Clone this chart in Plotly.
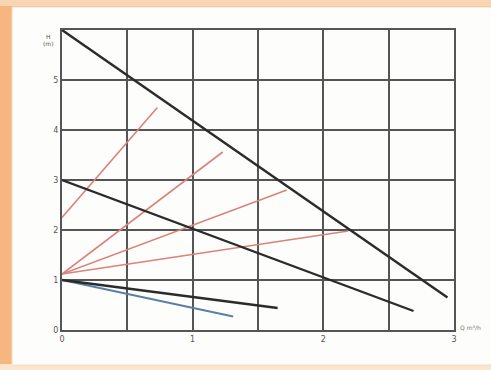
import plotly.graph_objects as go

# Data (Q in m3/h, H in m)
black_lines = [
    {"q": [0, 2.95], "h": [6.0, 0.65]},
    {"q": [0, 2.69], "h": [3.0, 0.38]},
    {"q": [0, 1.65], "h": [1.0, 0.44]},
]
blue_q = [0, 1.31]
blue_h = [1.0, 0.27]
red_lines = [
    {"q": [0, 0.73], "h": [2.25, 4.45]},
    {"q": [0, 1.23], "h": [1.12, 3.56]},
    {"q": [0, 1.72], "h": [1.12, 2.8]},
    {"q": [0, 2.19], "h": [1.12, 1.98]},
]
x_tickvals = [0, 0.5, 1, 1.5, 2, 2.5, 3]
x_ticktext = ["0", "", "1", "", "2", "", "3"]
y_tickvals = [0, 1, 2, 3, 4, 5, 6]
y_ticktext = ["0", "1", "2", "3", "4", "5", ""]

fig = go.Figure()
for r in red_lines:
    fig.add_trace(go.Scatter(x=r["q"], y=r["h"], mode="lines",
                             line=dict(color="#d9837c", width=1.6), showlegend=False))
fig.add_trace(go.Scatter(x=blue_q, y=blue_h, mode="lines",
                         line=dict(color="#5b7ea6", width=2), showlegend=False))
for b in black_lines:
    fig.add_trace(go.Scatter(x=b["q"], y=b["h"], mode="lines",
                             line=dict(color="#2b2b2b", width=2.4), showlegend=False))

PW, PH = 392, 300
fig.update_layout(
    width=491, height=370,
    margin=dict(l=62, r=37, t=30, b=40),
    paper_bgcolor="#f5b77f",
    plot_bgcolor="white",
    showlegend=False,
    font=dict(family="DejaVu Sans", size=6, color="#555"),
    shapes=[
        dict(type="rect", xref="paper", yref="paper", layer="below",
             x0=-62/PW, x1=1 + 37/PW, y0=1 + 24/PH, y1=1 + 30/PH,
             fillcolor="#f8d6b4", line=dict(width=0)),
        dict(type="rect", xref="paper", yref="paper", layer="below",
             x0=-62/PW, x1=1 + 37/PW, y0=-40/PH, y1=-34/PH,
             fillcolor="#fae6cf", line=dict(width=0)),
        dict(type="rect", xref="paper", yref="paper", layer="below",
             x0=-50/PW, x1=1 + 40/PW, y0=-35/PH, y1=1 + 23/PH,
             fillcolor="#fdfdfb", line=dict(color="#f2dcc2", width=1)),
    ],
    annotations=[
        dict(text="H", xref="paper", yref="paper", x=-14/PW, y=1 - 6/PH,
             showarrow=False, font=dict(size=6, color="#555"), xanchor="center", yanchor="middle"),
        dict(text="(m)", xref="paper", yref="paper", x=-14/PW, y=1 - 14/PH,
             showarrow=False, font=dict(size=6, color="#555"), xanchor="center", yanchor="middle"),
        dict(text="Q m³/h", xref="paper", yref="paper", x=1 + 4/PW, y=3/PH,
             showarrow=False, font=dict(size=6, color="#777"), xanchor="left", yanchor="middle"),
    ],
)
fig.update_xaxes(range=[0, 3], tickvals=x_tickvals, ticktext=x_ticktext,
                 showgrid=True, gridcolor="#555", gridwidth=2,
                 showline=True, linecolor="#555", linewidth=2, mirror=True,
                 zeroline=False, ticks="", tickfont=dict(size=8, color="#555"))
fig.update_yaxes(range=[0, 6], tickvals=y_tickvals, ticktext=y_ticktext,
                 showgrid=True, gridcolor="#555", gridwidth=2,
                 showline=True, linecolor="#555", linewidth=2, mirror=True,
                 zeroline=False, ticks="", tickfont=dict(size=8, color="#555"))

fig.write_html("out.html", config={"displayModeBar": False},
               post_script="document.body.style.margin='0';")
